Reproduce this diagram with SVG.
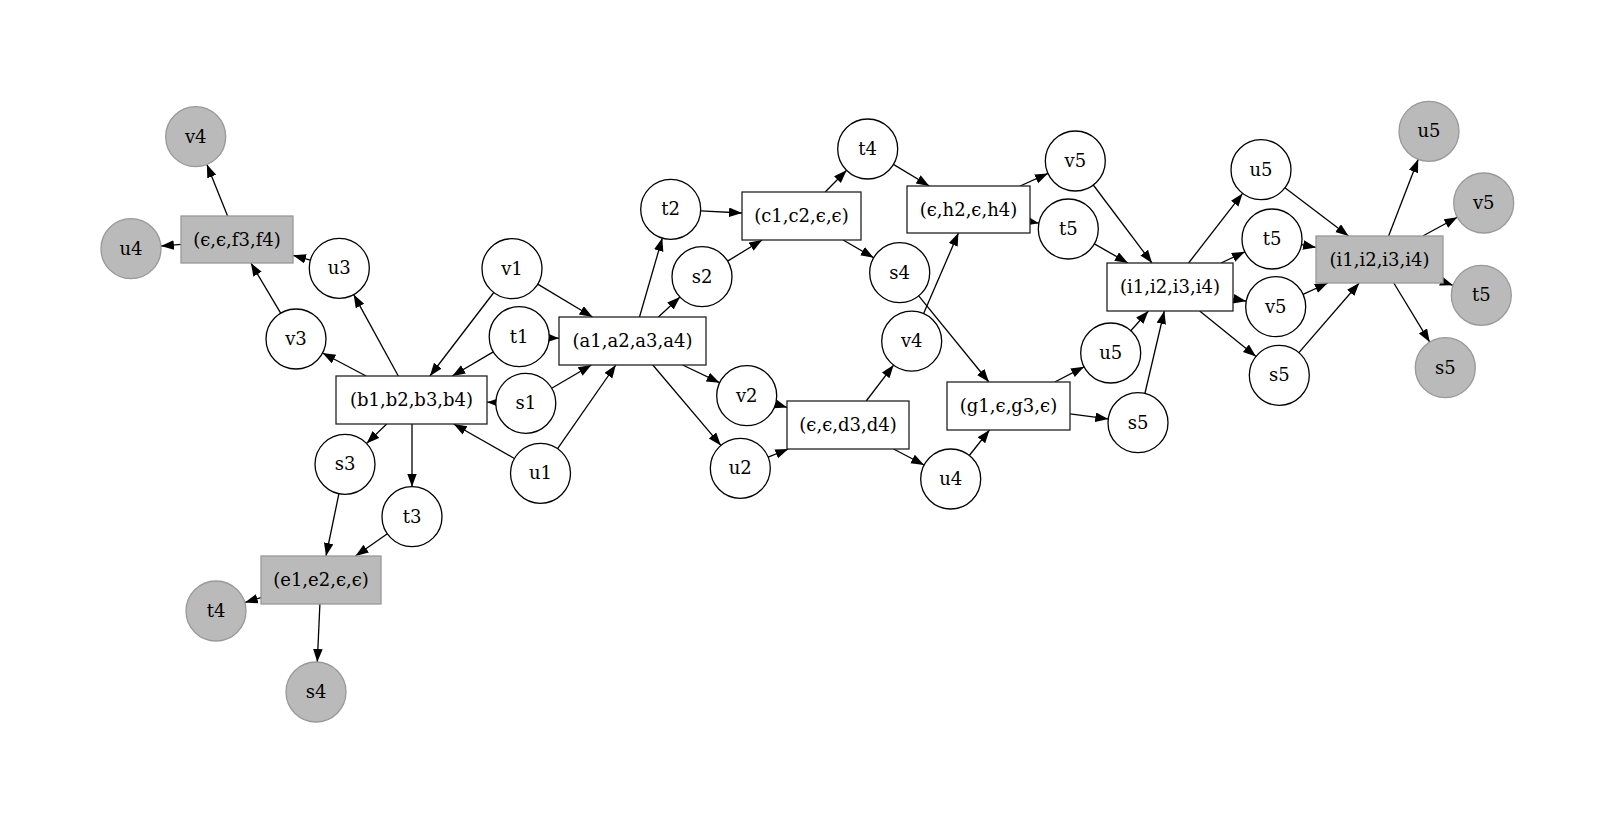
<svg xmlns="http://www.w3.org/2000/svg" width="1615" height="823" viewBox="0 0 1615 823">
<style>
.c{fill:#fff;stroke:#000;stroke-width:1.3}
.cg{fill:#bababa;stroke:#999;stroke-width:1.3}
.b{fill:#fff;stroke:#222;stroke-width:1.3}
.bg{fill:#bababa;stroke:#999;stroke-width:1.3}
text{font-family:"DejaVu Serif","Liberation Serif",serif;font-size:18px;fill:#000;text-anchor:middle}
#edges line{stroke:#000;stroke-width:1.3;marker-end:url(#ah)}
</style>
<defs>
<marker id="ah" markerUnits="userSpaceOnUse" markerWidth="14" markerHeight="11" refX="13" refY="4.8" orient="auto">
<path d="M0,0 L13,4.8 L0,9.6 z" fill="#000"/>
</marker>
</defs>
<rect width="1615" height="823" fill="#fff"/>
<g id="edges">
<line x1="227.6" y1="216" x2="206.9" y2="164.5"/>
<line x1="181" y1="244.4" x2="160.9" y2="246.1"/>
<line x1="310.4" y1="260.2" x2="293" y2="255.3"/>
<line x1="280.7" y1="313.2" x2="250.9" y2="263"/>
<line x1="366.1" y1="376" x2="322.5" y2="353"/>
<line x1="398.3" y1="376" x2="353.7" y2="294.6"/>
<line x1="493.8" y1="292.5" x2="429.9" y2="376"/>
<line x1="493.3" y1="351.9" x2="452.3" y2="376"/>
<line x1="495.8" y1="402.4" x2="487" y2="402.2"/>
<line x1="514.4" y1="458.5" x2="453.7" y2="424"/>
<line x1="386.7" y1="424" x2="366.6" y2="443.4"/>
<line x1="412" y1="424" x2="412" y2="486.7"/>
<line x1="338.9" y1="493.7" x2="326" y2="556"/>
<line x1="387.4" y1="533.8" x2="355.5" y2="556"/>
<line x1="261" y1="597.7" x2="244.8" y2="602.5"/>
<line x1="319.9" y1="604" x2="317.3" y2="662"/>
<line x1="537.7" y1="284.1" x2="592.5" y2="317"/>
<line x1="549.2" y1="337.8" x2="559" y2="338.2"/>
<line x1="551.7" y1="388.2" x2="591.4" y2="365"/>
<line x1="557.6" y1="448.7" x2="615.8" y2="365"/>
<line x1="639.5" y1="317" x2="662.3" y2="238.1"/>
<line x1="658.4" y1="317" x2="680" y2="297.1"/>
<line x1="682.6" y1="365" x2="719.6" y2="382.7"/>
<line x1="652.8" y1="365" x2="720.9" y2="445.4"/>
<line x1="700.7" y1="210.8" x2="742" y2="213"/>
<line x1="727.6" y1="261.1" x2="762.2" y2="240"/>
<line x1="825.2" y1="192" x2="846.6" y2="170.3"/>
<line x1="843.1" y1="240" x2="873.7" y2="257.7"/>
<line x1="893.4" y1="164.4" x2="929.3" y2="186"/>
<line x1="1020.2" y1="186" x2="1048" y2="173.4"/>
<line x1="1030" y1="221.5" x2="1038.9" y2="223.2"/>
<line x1="923.6" y1="313.6" x2="958.4" y2="233"/>
<line x1="918.7" y1="295.9" x2="988.9" y2="382"/>
<line x1="866.2" y1="401" x2="893.6" y2="365.1"/>
<line x1="893.6" y1="449" x2="924.1" y2="465"/>
<line x1="768.1" y1="457.1" x2="788.3" y2="449"/>
<line x1="775.5" y1="404" x2="787" y2="407.4"/>
<line x1="969.3" y1="455.5" x2="989.5" y2="430"/>
<line x1="1054.8" y1="382" x2="1084.1" y2="366.8"/>
<line x1="1070" y1="413.9" x2="1108.3" y2="418.9"/>
<line x1="1093.3" y1="185" x2="1152" y2="263"/>
<line x1="1094.4" y1="243.9" x2="1127.9" y2="263"/>
<line x1="1130.8" y1="330.7" x2="1148.4" y2="311"/>
<line x1="1144.9" y1="393.5" x2="1164.3" y2="311"/>
<line x1="1188.6" y1="263" x2="1242.6" y2="193.4"/>
<line x1="1221" y1="263" x2="1244.9" y2="251.8"/>
<line x1="1233" y1="298.7" x2="1246.2" y2="301.2"/>
<line x1="1199.7" y1="311" x2="1256" y2="356.4"/>
<line x1="1284.9" y1="187.8" x2="1348.5" y2="236"/>
<line x1="1301.5" y1="244.6" x2="1316" y2="247.4"/>
<line x1="1303" y1="294.3" x2="1327.8" y2="283"/>
<line x1="1298.9" y1="352.6" x2="1359.2" y2="283"/>
<line x1="1388.6" y1="236" x2="1418.2" y2="159.3"/>
<line x1="1422.8" y1="236" x2="1457.3" y2="217.3"/>
<line x1="1443" y1="281.8" x2="1453" y2="285.3"/>
<line x1="1393.8" y1="283" x2="1429.7" y2="342.1"/>
</g>
<g id="n_f"><rect class="bg" x="181" y="216" width="112" height="47"/><text x="237" y="245.5">(ϵ,ϵ,f3,f4)</text></g>
<g id="n_b"><rect class="b" x="336" y="376" width="151" height="48"/><text x="411.5" y="406">(b1,b2,b3,b4)</text></g>
<g id="n_e"><rect class="bg" x="261" y="556" width="120" height="48"/><text x="321" y="586">(e1,e2,ϵ,ϵ)</text></g>
<g id="n_a"><rect class="b" x="559" y="317" width="147" height="48"/><text x="632.5" y="347">(a1,a2,a3,a4)</text></g>
<g id="n_c"><rect class="b" x="742" y="192" width="119" height="48"/><text x="801.5" y="222">(c1,c2,ϵ,ϵ)</text></g>
<g id="n_d"><rect class="b" x="787" y="401" width="122" height="48"/><text x="848" y="431">(ϵ,ϵ,d3,d4)</text></g>
<g id="n_h"><rect class="b" x="907" y="186" width="123" height="47"/><text x="968.5" y="215.5">(ϵ,h2,ϵ,h4)</text></g>
<g id="n_g"><rect class="b" x="947" y="382" width="123" height="48"/><text x="1008.5" y="412">(g1,ϵ,g3,ϵ)</text></g>
<g id="n_i"><rect class="b" x="1107" y="263" width="126" height="48"/><text x="1170" y="293">(i1,i2,i3,i4)</text></g>
<g id="n_ig"><rect class="bg" x="1316" y="236" width="127" height="47"/><text x="1379.5" y="265.5">(i1,i2,i3,i4)</text></g>
<g id="n_v4g"><circle class="cg" cx="195.7" cy="136.7" r="30"/><text x="195.7" y="142.7">v4</text></g>
<g id="n_u4g"><circle class="cg" cx="131" cy="248.7" r="30"/><text x="131" y="254.7">u4</text></g>
<g id="n_u3"><circle class="c" cx="339.3" cy="268.3" r="30"/><text x="339.3" y="274.3">u3</text></g>
<g id="n_v1"><circle class="c" cx="512" cy="268.7" r="30"/><text x="512" y="274.7">v1</text></g>
<g id="n_v3"><circle class="c" cx="296" cy="339" r="30"/><text x="296" y="345">v3</text></g>
<g id="n_t1"><circle class="c" cx="519.2" cy="336.7" r="30"/><text x="519.2" y="342.7">t1</text></g>
<g id="n_s1"><circle class="c" cx="525.8" cy="403.3" r="30"/><text x="525.8" y="409.3">s1</text></g>
<g id="n_s3"><circle class="c" cx="345" cy="464.3" r="30"/><text x="345" y="470.3">s3</text></g>
<g id="n_t3"><circle class="c" cx="412" cy="516.7" r="30"/><text x="412" y="522.7">t3</text></g>
<g id="n_u1"><circle class="c" cx="540.5" cy="473.3" r="30"/><text x="540.5" y="479.3">u1</text></g>
<g id="n_t4g"><circle class="cg" cx="216" cy="611" r="30"/><text x="216" y="617">t4</text></g>
<g id="n_s4g"><circle class="cg" cx="316" cy="692" r="30"/><text x="316" y="698">s4</text></g>
<g id="n_t2"><circle class="c" cx="670.7" cy="209.3" r="30"/><text x="670.7" y="215.3">t2</text></g>
<g id="n_s2"><circle class="c" cx="702" cy="276.7" r="30"/><text x="702" y="282.7">s2</text></g>
<g id="n_v2"><circle class="c" cx="746.7" cy="395.7" r="30"/><text x="746.7" y="401.7">v2</text></g>
<g id="n_u2"><circle class="c" cx="740.3" cy="468.3" r="30"/><text x="740.3" y="474.3">u2</text></g>
<g id="n_t4"><circle class="c" cx="867.7" cy="149" r="30"/><text x="867.7" y="155">t4</text></g>
<g id="n_s4"><circle class="c" cx="899.7" cy="272.7" r="30"/><text x="899.7" y="278.7">s4</text></g>
<g id="n_v4"><circle class="c" cx="911.7" cy="341.2" r="30"/><text x="911.7" y="347.2">v4</text></g>
<g id="n_u4"><circle class="c" cx="950.7" cy="479" r="30"/><text x="950.7" y="485">u4</text></g>
<g id="n_v5"><circle class="c" cx="1075.3" cy="161" r="30"/><text x="1075.3" y="167">v5</text></g>
<g id="n_t5"><circle class="c" cx="1068.3" cy="229" r="30"/><text x="1068.3" y="235">t5</text></g>
<g id="n_u5b"><circle class="c" cx="1110.7" cy="353" r="30"/><text x="1110.7" y="359">u5</text></g>
<g id="n_s5b"><circle class="c" cx="1138" cy="422.7" r="30"/><text x="1138" y="428.7">s5</text></g>
<g id="n_u5"><circle class="c" cx="1261" cy="169.7" r="30"/><text x="1261" y="175.7">u5</text></g>
<g id="n_t5r"><circle class="c" cx="1272" cy="239" r="30"/><text x="1272" y="245">t5</text></g>
<g id="n_v5r"><circle class="c" cx="1275.7" cy="306.7" r="30"/><text x="1275.7" y="312.7">v5</text></g>
<g id="n_s5r"><circle class="c" cx="1279.3" cy="375.3" r="30"/><text x="1279.3" y="381.3">s5</text></g>
<g id="n_u5g"><circle class="cg" cx="1429" cy="131.3" r="30"/><text x="1429" y="137.3">u5</text></g>
<g id="n_v5g"><circle class="cg" cx="1483.7" cy="203" r="30"/><text x="1483.7" y="209">v5</text></g>
<g id="n_t5g"><circle class="cg" cx="1481.3" cy="295.3" r="30"/><text x="1481.3" y="301.3">t5</text></g>
<g id="n_s5g"><circle class="cg" cx="1445.3" cy="367.7" r="30"/><text x="1445.3" y="373.7">s5</text></g>
</svg>
